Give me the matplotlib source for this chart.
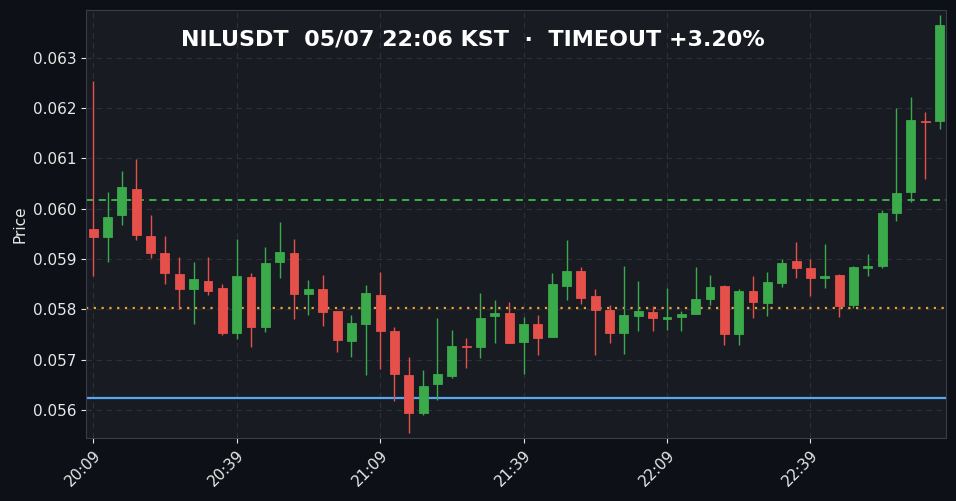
import matplotlib
matplotlib.use("Agg")
import matplotlib.pyplot as plt
import numpy as np

# prices in units of 1e-5 USDT
opens = [5960,5944,5988,6039,5946,5912,5870,5841,5857,5843,5753,5864,5765,5894,5912,5831,5841,5797,5737,5771,
         5829,5757,5670,5594,5652,5668,5727,5725,5787,5793,5735,5771,5745,5847,5876,5827,5799,5753,5787,5795,
         5781,5785,5791,5821,5847,5751,5837,5813,5853,5896,5882,5862,5868,5809,5882,5886,5992,6034,6175,6175]
closes = [5944,5984,6043,5948,5912,5872,5841,5861,5837,5753,5866,5765,5892,5914,5831,5841,5795,5739,5773,5833,
          5757,5672,5594,5648,5672,5727,5725,5783,5793,5733,5771,5743,5851,5876,5823,5799,5753,5789,5797,5783,
          5785,5791,5821,5845,5751,5837,5815,5855,5892,5882,5862,5866,5807,5884,5886,5992,6032,6177,6173,6366]
highs = [6254,6033,6075,6099,5988,5946,5904,5894,5904,5851,5940,5872,5924,5974,5940,5858,5868,5797,5789,5849,
         5874,5765,5705,5680,5783,5759,5743,5833,5819,5815,5785,5789,5872,5938,5884,5841,5809,5886,5857,5807,
         5843,5797,5884,5868,5849,5841,5866,5874,5900,5934,5900,5930,5870,5886,5910,5998,6201,6222,6193,6386]
lows = [5866,5894,5968,5938,5902,5851,5801,5771,5829,5749,5741,5725,5755,5862,5781,5789,5767,5715,5705,5670,
        5682,5618,5554,5590,5620,5664,5684,5703,5733,5733,5672,5709,5745,5819,5811,5709,5733,5711,5757,5757,
        5759,5757,5791,5809,5729,5729,5783,5787,5845,5862,5827,5843,5785,5803,5866,5882,5976,6014,6059,6159]
tick_labels = ["20:09","20:39","21:09","21:39","22:09","22:39"]
line_take = 0.06018
line_ref = 0.05803
line_stop = 0.05624

o = np.array(opens)/1e5; c = np.array(closes)/1e5
h = np.array(highs)/1e5; l = np.array(lows)/1e5
x = np.arange(len(o))

BG = "#0d1016"; AX = "#181b22"
GREEN = "#3aaa4b"; RED = "#e5504a"

fig = plt.figure(figsize=(9.56, 5.01), dpi=100, facecolor=BG)
ax = fig.add_axes([0.09, 0.1257, 0.8995, 0.8543], facecolor=AX)

up = c >= o
cols = np.where(up, GREEN, RED)
ax.vlines(x, l, h, colors=cols, linewidth=1, zorder=2)
bottom = np.minimum(o, c)
height = np.maximum(np.abs(c - o), 0.000004)
ax.bar(x, height, bottom=bottom, width=0.62, color=cols, edgecolor=cols, linewidth=0.6, zorder=3)

ax.axhline(line_take, color="#3dbb4e", linestyle=(0, (4, 3)), linewidth=1.3, zorder=1)
ax.axhline(line_ref, color="#f0a030", linestyle=(0, (1, 2.5)), linewidth=1.6, zorder=1)
ax.axhline(line_stop, color="#5aa6f5", linewidth=1.6, zorder=1)

ax.set_xlim(-0.5, 59.45)
ax.set_ylim(0.05544, 0.06395)
ax.set_xticks(np.arange(0, 60, 10))
ax.set_xticklabels(tick_labels, rotation=45, ha="right", rotation_mode="anchor")
ax.set_yticks([0.056, 0.057, 0.058, 0.059, 0.060, 0.061, 0.062, 0.063])
ax.yaxis.set_major_formatter(matplotlib.ticker.FormatStrFormatter("%.3f"))
ax.tick_params(colors="#e8e8e8", labelsize=11)
ax.grid(True, color="#2c303a", linestyle=(0, (5, 4)), linewidth=0.8)
ax.set_axisbelow(True)
for s in ax.spines.values():
    s.set_color("#3a3e48")
ax.set_ylabel("Price", color="#e8e8e8", fontsize=11)
ax.text(0.45, 0.93, "NILUSDT  05/07 22:06 KST  ·  TIMEOUT +3.20%", transform=ax.transAxes,
        ha="center", va="center", color="white", fontsize=16, fontweight="bold")

fig.savefig("out.png", dpi=100, facecolor=BG)
